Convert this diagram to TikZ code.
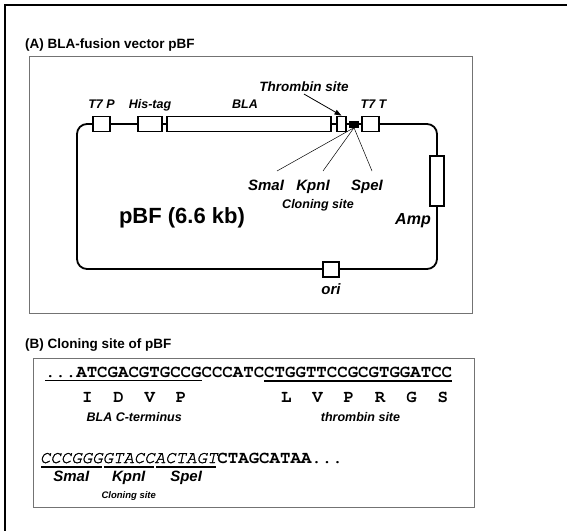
\documentclass[tikz,border=0pt]{standalone}
\usepackage{fontspec}
\setmainfont{Liberation Sans}
\newfontfamily\courfont{TeX Gyre Cursor}
\newfontfamily\courlight[FakeBold=1.5]{TeX Gyre Cursor}
\usetikzlibrary{arrows.meta,positioning}

\begin{document}
\begin{tikzpicture}[x=1pt,y=-1pt,
    heading/.style={anchor=base west,inner sep=0pt,font=\bfseries\fontsize{13.5}{16}\selectfont},
    panel/.style={draw=black!55,line width=0.8pt},
    feat/.style={rectangle,draw,line width=1.8pt,fill=white,inner sep=0pt,minimum height=15pt},
    lab/.style={inner sep=0pt,text height=9pt,text depth=2.7pt,font=\bfseries\itshape\fontsize{12.5}{15}\selectfont},
    site/.style={inner sep=0pt,text height=10.8pt,text depth=3.2pt,font=\bfseries\itshape\fontsize{15}{18}\selectfont},
    note/.style={inner sep=0pt,font=\bfseries\itshape\fontsize{9.5}{11}\selectfont},
    seq/.style={anchor=base west,inner sep=0pt,outer sep=0pt,font=\courfont\bfseries\fontsize{17.4}{20}\selectfont},
    seqit/.style={seq,font=\courlight\itshape\fontsize{17.4}{20}\selectfont},
    ul/.style={line width=2pt,shorten <=1pt,shorten >=1pt},
    arrow/.style={-{Triangle[length=7pt,width=5pt]},line width=0.8pt},
    fan/.style={line width=0.5pt}]
    \useasboundingbox (0,0) rectangle (567,530);
    \draw[line width=2.4pt] (5,532) -- (5,5) -- (569,5);

    \node[heading] (ttla) at (25,48) {(A) BLA-fusion vector pBF};
    \draw[panel] (29,56) rectangle (472,313);
    \draw[line width=1.8pt,rounded corners=10pt] (77,124) rectangle (437,269);
    \node[feat,minimum width=17pt] (t7p) at (101.5,124) {};
    \node[feat,minimum width=24pt] (his) at (150,124) {};
    \node[feat,minimum width=164pt] (bla) at (249,124) {};
    \node[feat,minimum width=9pt] (thr) at (341.5,124) {};
    \node[rectangle,fill=black,inner sep=0pt,minimum width=10pt,minimum height=7pt] (mcs) at (354,124) {};
    \node[feat,minimum width=17pt] (t7t) at (370.5,124) {};
    \node[feat,minimum width=14pt,minimum height=50pt] (amp) at (437,181) {};
    \node[feat,minimum width=16pt] (ori) at (331,269.5) {};
    \node[lab,above=4pt of t7p] (t7plab) {T7 P};
    \node[lab,above=4pt of his] (hislab) {His-tag};
    \node[lab,above=4pt of bla,xshift=-4pt] (blalab) {BLA};
    \node[lab,above=4pt of t7t,xshift=3pt] (t7tlab) {T7 T};
    \node[lab,font=\bfseries\itshape\fontsize{13.5}{16}\selectfont] (thrlab) at (304,88) {Thrombin site};
    \draw[arrow] (thrlab.south) -- (thr.north);
    \node[site,anchor=base] (smaa) at (266,190) {SmaI};
    \node[site,anchor=base] (kpna) at (313,190) {KpnI};
    \node[site,anchor=base] (spea) at (367,190) {SpeI};
    \node[lab,below=6pt of kpna,xshift=5pt] (clonea) {Cloning site};
    \draw[fan] (mcs.south) -- ([xshift=11pt,yshift=8pt]smaa.north);
    \draw[fan] (mcs.south) -- ([xshift=10pt,yshift=8pt]kpna.north);
    \draw[fan] (mcs.south) -- ([xshift=5pt,yshift=8pt]spea.north);
    \node[font=\bfseries\fontsize{22}{26}\selectfont,inner sep=0pt] (pbf) at (182,218) {pBF (6.6 kb)};
    \node[site,anchor=base,font=\bfseries\itshape\fontsize{16}{19}\selectfont] (amplab) at (413,224) {Amp};
    \node[site,below=6pt of ori] (orilab) {ori};

    \node[heading] (ttlb) at (25,348) {(B) Cloning site of pBF};
    \draw[panel] (33,358) rectangle (474,507);
    \node[seq] (sqa) at (45,377) {...ATCGACGTGCCG};
    \node[seq,base right=0pt of sqa] (sqb) {CCCATC};
    \node[seq,base right=0pt of sqb] (sqc) {CTGGTTCCGCGTGGATCC};
    \draw[line width=0.8pt] ([yshift=-3pt]sqa.base west) -- ([yshift=-3pt]sqa.base east);
    \draw[line width=2pt] ([yshift=-3.5pt]sqc.base west) -- ([yshift=-3.5pt]sqc.base east);
    \node[seq] (aab) at (82,402) {I~~D~~V~~P};
    \node[seq] (aat) at (281,402) {L~~V~~P~~R~~G~~S};
    \node[lab,below=10pt of aab] (blaterm) {BLA C-terminus};
    \node[lab,below=10pt of aat,xshift=-4pt] (thrterm) {thrombin site};
    \node[seqit] (sma) at (40,463) {CCCGGG};
    \node[seqit,base right=0pt of sma] (kpn) {GTACC};
    \node[seqit,base right=0pt of kpn] (spe) {ACTAGT};
    \node[seq,base right=0pt of spe] (tail) {CTAGCATAA...};
    \draw[ul] ([yshift=-3.5pt]sma.base west) -- ([yshift=-3.5pt]sma.base east);
    \draw[ul] ([yshift=-3.5pt]kpn.base west) -- ([yshift=-3.5pt]kpn.base east);
    \draw[ul] ([yshift=-3.5pt]spe.base west) -- ([yshift=-3.5pt]spe.base east);
    \node[site,below=7.5pt of sma] (smab) {SmaI};
    \node[site,below=7.5pt of kpn] (kpnb) {KpnI};
    \node[site,below=7.5pt of spe] (speb) {SpeI};
    \node[note,below=6pt of kpnb] (cloneb) {Cloning site};
\end{tikzpicture}
\end{document}
